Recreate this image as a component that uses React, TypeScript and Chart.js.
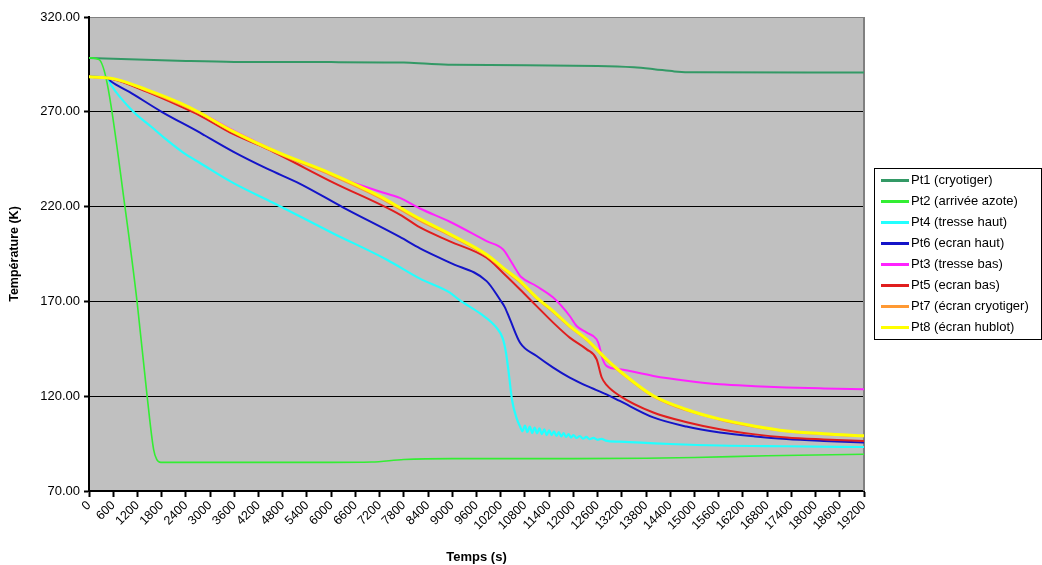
import React, { useEffect, useRef } from "react";
import { Chart, registerables } from "chart.js";

Chart.register(...registerables);

const FONT = '"Liberation Sans", Arial, sans-serif';

// Axis ticks
const xTickValues = [0, 600, 1200, 1800, 2400, 3000, 3600, 4200, 4800, 5400, 6000, 6600, 7200, 7800, 8400, 9000, 9600, 10200, 10800, 11400, 12000, 12600, 13200, 13800, 14400, 15000, 15600, 16200, 16800, 17400, 18000, 18600, 19200];
const yTickValues = [70, 120, 170, 220, 270, 320];

// Series labels (legend order)
const seriesLabels = ["Pt1 (cryotiger)", "Pt2 (arrivée azote)", "Pt4 (tresse haut)", "Pt6 (ecran haut)", "Pt3 (tresse bas)", "Pt5 (ecran bas)", "Pt7 (écran cryotiger)", "Pt8 (écran hublot)"];
const seriesColors = ["#339966", "#33EE33", "#22FFFF", "#1414C8", "#FF22FF", "#E01E1E", "#FF9933", "#FFFF00"];
const seriesWidths = [2, 1.6, 2.2, 2, 2, 2, 2, 3];

// Pt1 (cryotiger)
const pt1Time = [0, 1200, 2400, 3600, 6000, 7800, 8400, 9000, 12600, 13500, 14000, 14500, 15000, 19200];
const pt1Temp = [298.4, 297.6, 296.8, 296.3, 296.2, 296.0, 295.3, 294.8, 294.2, 293.5, 292.5, 291.3, 290.8, 290.7];

// Pt2 (arrivée azote)
const pt2Time = [0, 250, 450, 890, 1190, 1440, 1600, 1680, 1780, 3000, 6000, 7000, 7800, 9000, 12000, 13800, 15000, 16800, 19200];
const pt2Temp = [298.5, 297.5, 285, 220, 170, 120, 92, 86.5, 85.1, 85.1, 85.1, 85.3, 86.6, 87.1, 87.1, 87.3, 87.7, 88.6, 89.4];

// Pt4 (tresse haut)
const pt4Time = [0, 450, 550, 1100, 1550, 1880, 2400, 2750, 3570, 4560, 6040, 7380, 8200, 8940, 9190, 9700, 10100, 10250, 10330, 10400, 10480, 10600, 10680, 10740, 10800, 10860, 10920, 10980, 11040, 11100, 11160, 11220, 11280, 11340, 11400, 11460, 11520, 11580, 11640, 11700, 11760, 11820, 11880, 11940, 12000, 12080, 12160, 12240, 12320, 12400, 12500, 12600, 12700, 12800, 13150, 14400, 15630, 17280, 19200];
const pt4Temp = [288.5, 288, 284, 270, 262, 256, 247.5, 243, 232.5, 222, 206, 192, 182, 174.6, 170.5, 163.5, 156, 150.5, 143, 132, 118, 108, 104, 101.5, 104.5, 101, 104, 100.5, 103.5, 100.5, 103, 100, 102.5, 99.5, 102, 99.5, 101.5, 99, 101, 98.8, 100.5, 98.5, 100, 98.2, 99.5, 98, 99, 97.6, 98.5, 97.3, 98, 97, 97.5, 96.6, 96, 94.8, 94, 93.6, 93.2];

// Pt6 (ecran haut)
const pt6Time = [0, 450, 550, 1000, 1800, 2750, 2870, 3570, 4410, 5230, 6290, 7700, 8200, 8940, 9850, 10180, 10300, 10430, 10680, 11090, 11500, 11910, 12330, 12820, 13150, 13980, 14800, 15630, 16500, 17280, 18200, 19200];
const pt6Temp = [288.5, 288, 286, 280.5, 270, 259, 257.5, 249, 240, 232, 219.6, 204, 198, 190.4, 180.7, 171, 167, 160.5, 148.2, 141.2, 135.1, 129.8, 125.4, 121, 117.5, 108.8, 104, 100.9, 98.8, 97.4, 96.4, 95.6];

// Pt3 (tresse bas)
const pt3Time = [0, 600, 1440, 2250, 2750, 3500, 4400, 4800, 6040, 7200, 7700, 8200, 8940, 9850, 10260, 10430, 10600, 10700, 11090, 11500, 11910, 12080, 12330, 12575, 12650, 12700, 12820, 13150, 13980, 14800, 15630, 16500, 17280, 18200, 19200];
const pt3Temp = [288.5, 287.3, 281, 273.8, 269.5, 261, 251.5, 247.5, 236.5, 228, 224.6, 219, 212, 201.8, 197.4, 192, 186, 183, 178, 172, 162.3, 157, 153.5, 150, 146, 141.2, 136, 134.2, 130.7, 128.2, 126.3, 125.3, 124.6, 124.1, 123.7];

// Pt5 (ecran bas)
const pt5Time = [0, 600, 1440, 2250, 2750, 3500, 4410, 6040, 7700, 8200, 8940, 9850, 10260, 10680, 11090, 11500, 11910, 12330, 12575, 12700, 12820, 13150, 13980, 14810, 15630, 16450, 17280, 18200, 19200];
const pt5Temp = [288.5, 287.2, 280.5, 273, 268, 259, 250.5, 232.8, 215.8, 209, 201.7, 193, 185, 176.3, 167.5, 158.8, 150.9, 144.7, 139.5, 130, 126, 120.2, 111.4, 106.3, 102.6, 100, 98.2, 97.2, 96.4];

// Pt7 (écran cryotiger)
const pt7Time = [0, 600, 1440, 2250, 2750, 3500, 4730, 5970, 7210, 8200, 8940, 9850, 10260, 10680, 11090, 11500, 11910, 12330, 12820, 13150, 13980, 15630, 17280, 19200];
const pt7Temp = [288.5, 287.3, 281, 274, 269, 260, 247.5, 236.8, 224.5, 212.5, 204.8, 194, 187, 180, 171.5, 164.3, 156.5, 149.5, 139, 132.8, 119.8, 107.6, 101.5, 98.9];

// Pt8 (écran hublot)
const pt8Time = [0, 600, 1440, 2250, 2750, 3500, 4730, 5970, 7210, 7700, 8200, 8940, 9850, 10260, 10680, 11090, 11500, 11910, 12330, 12820, 13150, 13980, 14800, 15630, 16500, 17280, 18200, 19200];
const pt8Temp = [288.5, 287.5, 281.6, 274.7, 269.5, 260.5, 248.2, 237.7, 225.4, 219.5, 213.5, 205.5, 194.7, 187.7, 180.7, 172, 164.9, 157, 150, 139.5, 133.3, 120.2, 113, 107.9, 104.2, 101.7, 100.2, 99.1];

const seriesTimes = [pt1Time, pt2Time, pt4Time, pt6Time, pt3Time, pt5Time, pt7Time, pt8Time];
const seriesTemps = [pt1Temp, pt2Temp, pt4Temp, pt6Temp, pt3Temp, pt5Temp, pt7Temp, pt8Temp];

function toPoints(t: number[], v: number[]) {
  return t.map((x, i) => ({ x, y: v[i] }));
}

const bgPlugin = {
  id: "bgPlugin",
  beforeDraw(chart: any) {
    const { ctx, chartArea: a, width, height } = chart;
    ctx.save();
    ctx.fillStyle = "#ffffff";
    ctx.fillRect(0, 0, width, height);
    ctx.fillStyle = "#C0C0C0";
    ctx.fillRect(a.left, a.top, a.right - a.left, a.bottom - a.top);
    ctx.restore();
  },
  beforeDatasetsDraw(chart: any) {
    const { ctx, chartArea: a } = chart;
    ctx.save();
    ctx.strokeStyle = "#808080";
    ctx.lineWidth = 2;
    ctx.beginPath();
    ctx.moveTo(a.right, a.top);
    ctx.lineTo(a.right, a.bottom);
    ctx.stroke();
    ctx.restore();
  },
};

const legendPlugin = {
  id: "boxLegend",
  afterDraw(chart: any) {
    const { ctx } = chart;
    const ds = chart.data.datasets;
    ctx.save();
    ctx.fillStyle = "#ffffff";
    ctx.fillRect(875, 169, 166, 170);
    ctx.strokeStyle = "#000";
    ctx.lineWidth = 1;
    ctx.strokeRect(874.5, 168.5, 167, 171);
    ctx.font = `13px ${FONT}`;
    ctx.textBaseline = "middle";
    ctx.textAlign = "left";
    ds.forEach((d: any, i: number) => {
      const y = 180.5 + i * 21;
      ctx.strokeStyle = d.borderColor;
      ctx.lineWidth = 3;
      ctx.beginPath();
      ctx.moveTo(881, y);
      ctx.lineTo(909, y);
      ctx.stroke();
      ctx.fillStyle = "#000";
      ctx.fillText(d.label, 911, y);
    });
    ctx.restore();
  },
};

export default function App() {
  const ref = useRef<HTMLCanvasElement | null>(null);
  useEffect(() => {
    if (!ref.current) return;
    const datasets = seriesLabels.map((label, i) => ({
      label,
      data: toPoints(seriesTimes[i], seriesTemps[i]),
      borderColor: seriesColors[i],
      backgroundColor: seriesColors[i],
      borderWidth: seriesWidths[i],
      pointRadius: 0,
      fill: false,
      cubicInterpolationMode: "monotone" as const,
      order: seriesLabels.length - i,
    }));
    const chart = new Chart(ref.current, {
      type: "line",
      data: { datasets },
      plugins: [bgPlugin, legendPlugin],
      options: {
        animation: false,
        responsive: false,
        devicePixelRatio: 1,
        layout: { padding: { left: 0, top: 17, right: 178, bottom: 0 } },
        plugins: { legend: { display: false }, tooltip: { enabled: false } },
        scales: {
          x: {
            type: "linear",
            min: 0,
            max: 19200,
            afterBuildTicks: (s: any) => {
              s.ticks = xTickValues.map((v) => ({ value: v }));
            },
            afterFit: (s: any) => {
              s.height = 74;
            },
            ticks: {
              autoSkip: false,
              minRotation: 45,
              maxRotation: 45,
              color: "#000",
              padding: 1,
              font: { family: FONT, size: 12.5 },
              callback: (v: any) => String(v),
            },
            grid: { drawOnChartArea: false, drawTicks: true, tickLength: 6, tickColor: "#000", tickWidth: 2 },
            border: { color: "#000", width: 2 },
            title: { display: true, text: "Temps (s)", color: "#000", font: { family: FONT, size: 13, weight: "bold" }, padding: { top: 0, bottom: 0 } },
          },
          y: {
            type: "linear",
            min: 70,
            max: 320,
            afterBuildTicks: (s: any) => {
              s.ticks = yTickValues.map((v) => ({ value: v }));
            },
            afterFit: (s: any) => {
              s.width = 89;
            },
            ticks: {
              color: "#000",
              padding: 4,
              font: { family: FONT, size: 13 },
              callback: (v: any) => Number(v).toFixed(2),
            },
            grid: {
              color: (c: any) => (c.tick && c.tick.value === 320 ? "#808080" : "#000"),
              lineWidth: 1,
              tickLength: 5,
              tickColor: "#000",
              tickWidth: 2,
            },
            border: { color: "#000", width: 2 },
            title: { display: true, text: "Température (K)", color: "#000", font: { family: FONT, size: 12.5, weight: "bold" }, padding: { top: 7, bottom: 0 } },
          },
        },
      },
    });
    return () => chart.destroy();
  }, []);
  return (
    <div style={{ position: "fixed", left: 0, top: 0, width: 1042, height: 565, background: "#fff" }}>
      <canvas ref={ref} width={1042} height={565} style={{ display: "block", width: 1042, height: 565 }} />
    </div>
  );
}
